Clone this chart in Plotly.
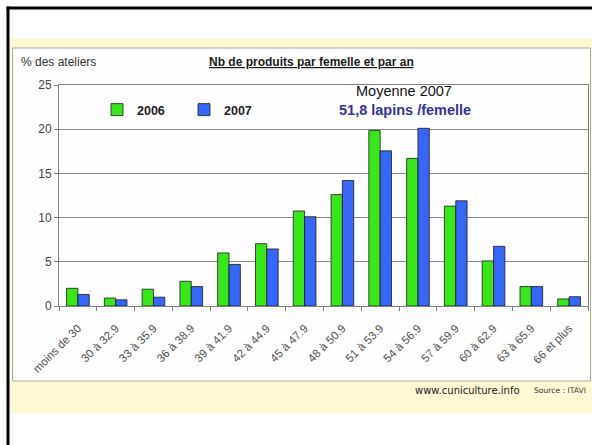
import plotly.graph_objects as go

# Nombre de produits par femelle et par an : classes et % des ateliers
classes = ["moins de 30", "30 à 32.9", "33 à 35.9", "36 à 38.9", "39 à 41.9",
           "42 à 44.9", "45 à 47.9", "48 à 50.9", "51 à 53.9", "54 à 56.9",
           "57 à 59.9", "60 à 62.9", "63 à 65.9", "66 et plus"]
pct_2006 = [2.0, 0.9, 1.9, 2.8, 6.0, 7.05, 10.75, 12.6, 19.85, 16.7, 11.3, 5.1, 2.2, 0.8]
pct_2007 = [1.3, 0.7, 1.0, 2.2, 4.7, 6.45, 10.1, 14.2, 17.55, 20.1, 11.9, 6.75, 2.2, 1.05]
y_ticks = [0, 5, 10, 15, 20, 25]

W, H = 592, 445


def px(x):
    return x / W


def py(y):
    return 1 - y / H


FONT = "Liberation Sans, Arial, sans-serif"
GREEN = "#39E61C"
BLUE = "#3566F5"

fig = go.Figure()
fig.add_trace(go.Bar(x=classes, y=pct_2006, name="2006",
                     marker=dict(color=GREEN, line=dict(color="#1c1c1c", width=0.8))))
fig.add_trace(go.Bar(x=classes, y=pct_2007, name="2007",
                     marker=dict(color=BLUE, line=dict(color="#1c1c1c", width=0.8))))

shapes = [
    # cream band behind the panel
    dict(type="rect", xref="paper", yref="paper", x0=px(9.5), x1=px(592),
         y0=py(413), y1=py(39), fillcolor="#FFF9D3", line=dict(width=0), layer="below"),
    # white panel
    dict(type="rect", xref="paper", yref="paper", x0=px(12.5), x1=px(590.5),
         y0=py(381), y1=py(48), fillcolor="#FEFEFE",
         line=dict(color="#A8A8A8", width=1), layer="below"),
    # black frame, top and left
    dict(type="line", xref="paper", yref="paper", x0=px(6.5), x1=px(592),
         y0=py(8), y1=py(8), line=dict(color="#000000", width=3)),
    dict(type="line", xref="paper", yref="paper", x0=px(8), x1=px(8),
         y0=py(6.5), y1=py(445), line=dict(color="#000000", width=3)),
]

annotations = [
    dict(text="% des ateliers", x=px(19), y=py(62), xref="paper", yref="paper",
         xanchor="left", yanchor="middle", showarrow=False,
         font=dict(family=FONT, size=12, color="#333333")),
    dict(text="<b><u>Nb de produits par femelle et par an</u></b>", x=px(311.5), y=py(62),
         xref="paper", yref="paper", xanchor="center", yanchor="middle", showarrow=False,
         font=dict(family=FONT, size=12, color="#1a1a1a")),
    dict(text="Moyenne 2007", x=px(404.5), y=py(91), xref="paper", yref="paper",
         xanchor="center", yanchor="middle", showarrow=False,
         font=dict(family=FONT, size=14.5, color="#111111")),
    dict(text="<b>51,8 lapins /femelle</b>", x=px(405), y=py(110), xref="paper", yref="paper",
         xanchor="center", yanchor="middle", showarrow=False,
         font=dict(family=FONT, size=14.5, color="#333399")),
    dict(text="www.cuniculture.info", x=px(413), y=py(390), xref="paper", yref="paper",
         xanchor="left", yanchor="middle", showarrow=False,
         font=dict(family="DejaVu Sans, sans-serif", size=10, color="#222222")),
    dict(text="Source : ITAVI", x=px(588), y=py(390), xref="paper", yref="paper",
         xanchor="right", yanchor="middle", showarrow=False,
         font=dict(family="DejaVu Sans, sans-serif", size=7.6, color="#333333")),
]

fig.update_layout(
    width=W, height=H,
    margin=dict(l=0, r=0, t=0, b=0, autoexpand=False),
    paper_bgcolor="#FFFFFF",
    plot_bgcolor="rgba(0,0,0,0)",
    barmode="group", bargap=0.4, bargroupgap=0,
    shapes=shapes, annotations=annotations,
    showlegend=True,
    legend=dict(orientation="h", x=px(97), y=py(110), xanchor="left", yanchor="middle",
                xref="paper", yref="paper", entrywidth=42, entrywidthmode="pixels",
                bgcolor="rgba(0,0,0,0)", traceorder="normal",
                font=dict(family=FONT, size=12.5, color="#222222", weight="bold")),
    xaxis=dict(domain=[px(59), px(588)], type="category", tickson="boundaries",
               automargin=False, ticklabelstandoff=10,
               ticks="outside", ticklen=4, tickcolor="#808080", tickangle=-45,
               showline=True, linecolor="#808080", linewidth=1, mirror=True,
               showgrid=False, tickfont=dict(family=FONT, size=11.5, color="#505050")),
    yaxis=dict(domain=[py(306), py(85)], range=[0, 25], tickvals=y_ticks,
               automargin=False,
               ticks="outside", ticklen=4, tickcolor="#808080",
               showline=True, linecolor="#808080", linewidth=1, mirror=True,
               showgrid=True, gridcolor="#8C8C8C", gridwidth=1, zeroline=False,
               tickfont=dict(family=FONT, size=12, color="#444444")),
)

fig.write_html("out.html")
